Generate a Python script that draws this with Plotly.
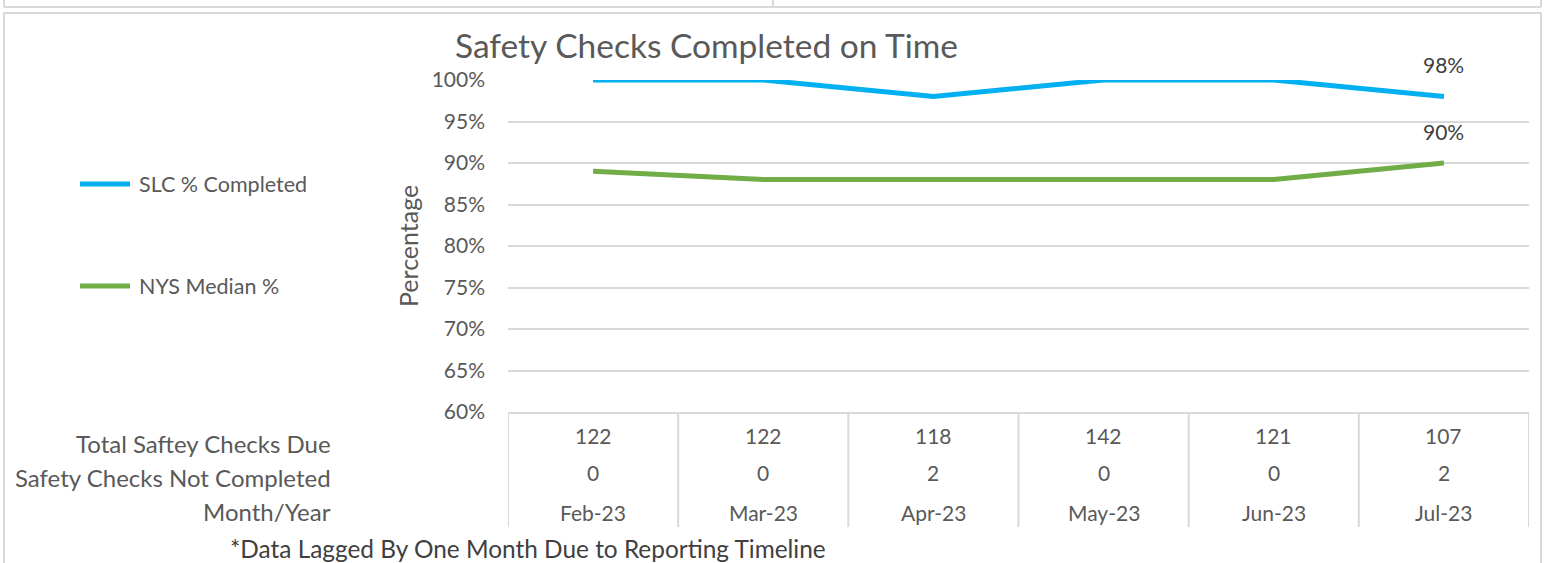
import plotly.graph_objects as go

W, H = 1548, 563

months = ['Feb-23', 'Mar-23', 'Apr-23', 'May-23', 'Jun-23', 'Jul-23']
slc_pct = [1.00, 1.00, 0.98, 1.00, 1.00, 0.98]
nys_median = [0.89, 0.88, 0.88, 0.88, 0.88, 0.90]
total_due = [122, 122, 118, 142, 121, 107]
not_completed = [0, 0, 2, 0, 0, 2]
row_labels = ['Total Saftey Checks Due', 'Safety Checks Not Completed', 'Month/Year']

FONT = 'Lato'
GREY = '#595959'
DARK = '#404040'
LINE = '#d9d9d9'
BLUE = '#00B0F0'
GREEN = '#70AD47'


def px(x):
    return x / W


def py(y):
    return 1 - y / H


fig = go.Figure()
fig.add_trace(go.Scatter(x=months, y=slc_pct, mode='lines', name='SLC % Completed',
                         line=dict(color=BLUE, width=5)))
fig.add_trace(go.Scatter(x=months, y=nys_median, mode='lines', name='NYS Median %',
                         line=dict(color=GREEN, width=5)))

annotations = []
shapes = []

# data labels on the last point
for series in (slc_pct, nys_median):
    annotations.append(dict(x=months[-1], y=series[-1], xref='x', yref='y',
                            text=f'{series[-1]:.0%}', showarrow=False, yshift=32,
                            font=dict(size=21, color=DARK, family=FONT)))

# table under the plot
for i, m in enumerate(months):
    for val, ypos in ((total_due[i], 435), (not_completed[i], 472), (m, 512)):
        annotations.append(dict(x=m, y=py(ypos), xref='x', yref='paper',
                                text=str(val), showarrow=False, yanchor='middle',
                                font=dict(size=21, color=GREY, family=FONT)))
for i in range(len(months) + 1):
    shapes.append(dict(type='line', xref='x', yref='paper', x0=i - 0.5, x1=i - 0.5,
                       y0=py(412), y1=py(527), line=dict(color=LINE, width=2)))

for lbl, ypos in zip(row_labels, (443, 477, 511)):
    annotations.append(dict(x=px(333), y=py(ypos), xref='paper', yref='paper',
                            text=lbl, showarrow=False, xanchor='right', yanchor='middle',
                            font=dict(size=24, color=GREY, family=FONT)))

annotations.append(dict(x=px(228), y=py(548), xref='paper', yref='paper',
                        text='*Data Lagged By One Month Due to Reporting Timeline',
                        showarrow=False, xanchor='left', yanchor='middle',
                        font=dict(size=24.4, color=DARK, family=FONT)))

# title and axis title
annotations.append(dict(x=px(706), y=py(67), xref='paper', yref='paper',
                        text='Safety Checks Completed on Time', showarrow=False,
                        xanchor='center', yanchor='bottom',
                        font=dict(size=33.5, color=GREY, family=FONT)))
annotations.append(dict(x=px(408), y=py(246), xref='paper', yref='paper',
                        text='Percentage', showarrow=False, textangle=-90,
                        xanchor='center', yanchor='middle',
                        font=dict(size=25, color=GREY, family=FONT)))

# legend on the left
for name, color, ypos in (('SLC % Completed', BLUE, 184), ('NYS Median %', GREEN, 286)):
    shapes.append(dict(type='line', xref='paper', yref='paper', x0=px(80), x1=px(130),
                       y0=py(ypos), y1=py(ypos), line=dict(color=color, width=5)))
    annotations.append(dict(x=px(137), y=py(ypos), xref='paper', yref='paper',
                            text=name, showarrow=False, xanchor='left', yanchor='middle',
                            font=dict(size=21.5, color=GREY, family=FONT)))

# panel frames
frame = dict(color=LINE, width=2)
shapes += [
    dict(type='line', xref='paper', yref='paper', x0=px(4), x1=px(1541), y0=py(7), y1=py(7), line=frame),
    dict(type='line', xref='paper', yref='paper', x0=px(4), x1=px(4), y0=py(0), y1=py(7), line=frame),
    dict(type='line', xref='paper', yref='paper', x0=px(773), x1=px(773), y0=py(0), y1=py(7), line=frame),
    dict(type='line', xref='paper', yref='paper', x0=px(1541), x1=px(1541), y0=py(0), y1=py(7), line=frame),
    dict(type='rect', xref='paper', yref='paper', x0=px(4), x1=px(1541), y0=py(13), y1=py(575), line=frame),
]

fig.update_layout(
    width=W, height=H,
    margin=dict(l=0, r=0, t=0, b=0, autoexpand=False),
    paper_bgcolor='white', plot_bgcolor='white',
    showlegend=False,
    font=dict(family=FONT, color=GREY),
    xaxis=dict(domain=[px(508), px(1529)], range=[-0.5, 5.5], showticklabels=False,
               showgrid=False, zeroline=False, showline=True, linecolor=LINE, linewidth=2,
               ticks='', automargin=False),
    yaxis=dict(domain=[py(412), py(80)], range=[0.6, 1.0], dtick=0.05, tickformat='.0%',
               showgrid=True, gridcolor=LINE, gridwidth=2, zeroline=False, showline=False,
               automargin=False, ticklabelstandoff=22,
               tickfont=dict(size=21, color=GREY, family=FONT)),
    annotations=annotations,
    shapes=shapes,
)

fig.write_html('out.html', config={'displayModeBar': False},
               post_script="document.body.style.margin='0';")
